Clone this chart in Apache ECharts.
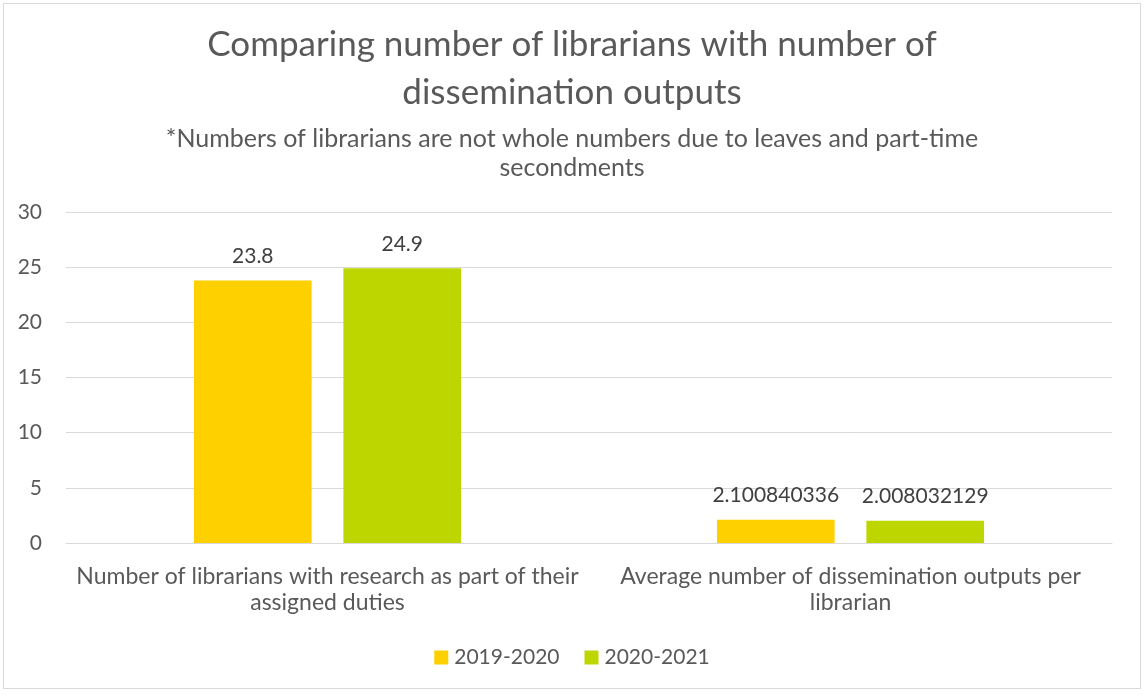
<!DOCTYPE html>
<html><head><meta charset="utf-8">
<script src="https://cdn.jsdelivr.net/npm/echarts@6/dist/echarts.min.js"></script>
<style>
html,body{margin:0;padding:0;background:#fff;}
#c{position:absolute;left:3px;top:3px;width:1138px;height:686px;border:1px solid #d9d9d9;box-sizing:border-box;}
</style></head><body>
<div id="c"></div>
<script>
const categories = ["Number of librarians with research as part of their\nassigned duties", "Average number of dissemination outputs per\nlibrarian"];
const seriesNames = ["2019-2020", "2020-2021"];
const values2019 = [23.8, 2.100840336];
const values2020 = [24.9, 2.008032129];
const colors = ["#FFD000", "#BED600"];
const FONT = "Lato";
const chart = echarts.init(document.getElementById('c'));
chart.setOption({
  animation: false,
  textStyle: {fontFamily: FONT},
  title: [{
    text: "Comparing number of librarians with number of\ndissemination outputs",
    left: 'center', top: 12,
    textStyle: {fontFamily: FONT, fontSize: 35, fontWeight: 'normal', color: '#595959', lineHeight: 48}
  },{
    text: "*Numbers of librarians are not whole numbers due to leaves and part-time\nsecondments",
    left: 'center', top: 115,
    textStyle: {fontFamily: FONT, fontSize: 25, fontWeight: 'normal', color: '#595959', lineHeight: 29}
  }],
  legend: {
    bottom: 15, left: 'center', itemWidth: 14, itemHeight: 14, itemGap: 25,
    icon: 'rect',
    textStyle: {fontFamily: FONT, fontSize: 21, color: '#595959', padding: [0,0,0,1]},
    data: seriesNames
  },
  grid: {left: 62, right: 28, top: 208, bottom: 145, containLabel: false},
  xAxis: {
    type: 'category', data: categories,
    axisLine: {lineStyle: {color: '#d9d9d9'}}, axisTick: {show: false},
    axisLabel: {interval: 0, fontFamily: FONT, fontSize: 23, color: '#595959', lineHeight: 26, margin: 21}
  },
  yAxis: {
    type: 'value', min: 0, max: 30, interval: 5,
    axisLine: {show: false}, axisTick: {show: false},
    axisLabel: {fontFamily: FONT, fontSize: 21, color: '#595959', margin: 24},
    splitLine: {lineStyle: {color: '#d9d9d9'}}
  },
  series: [
    {name: seriesNames[0], type: 'bar', data: values2019, barWidth: '22.5%', barGap: '27%',
     itemStyle: {color: colors[0]},
     label: {show: true, position: 'top', distance: 14, fontFamily: FONT, fontSize: 21, color: '#404040'}},
    {name: seriesNames[1], type: 'bar', data: values2020, barWidth: '22.5%',
     itemStyle: {color: colors[1]},
     label: {show: true, position: 'top', distance: 14, fontFamily: FONT, fontSize: 21, color: '#404040'}}
  ]
});
</script>
</body></html>
